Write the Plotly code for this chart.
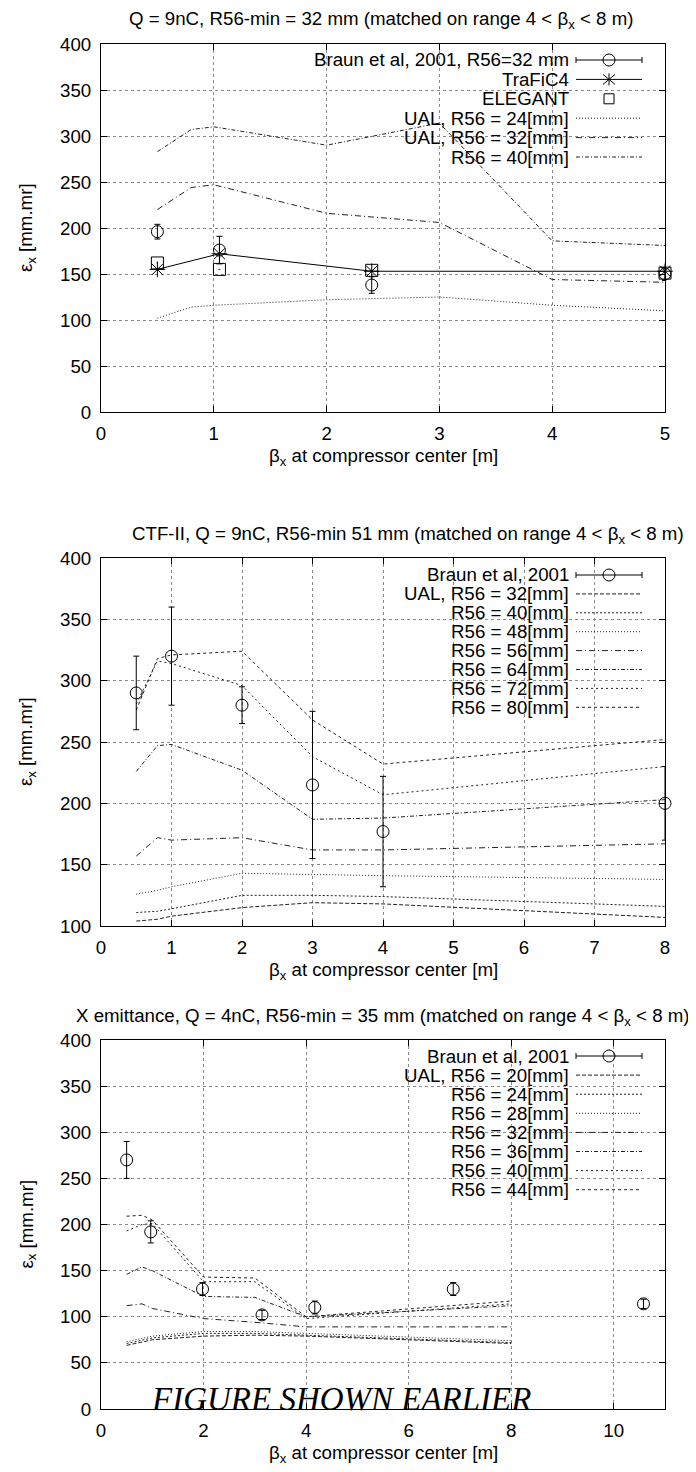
import plotly.graph_objects as go

# ---------------- data ----------------
# Panel 1: Q = 9nC, R56-min = 32 mm
top_braun_beta = [0.5, 1.05, 2.4, 5.0]
top_braun_eps = [196, 176, 138, 150]
top_braun_err = [8, 15, 9, 7]
top_trafic_beta = [0.5, 1.05, 2.4, 5.0]
top_trafic_eps = [155, 172, 153, 153]
top_elegant_beta = [0.5, 1.05, 2.4, 5.0]
top_elegant_eps = [162, 155, 154, 151]
top_ual_beta = [0.5, 0.8, 1, 2, 3, 4, 5]
top_ual_24 = [102, 114, 116, 122, 125, 116, 110]
top_ual_32 = [220, 244, 247, 216, 206, 144, 141]
top_ual_40 = [283, 307, 310, 290, 314, 186, 181]

# Panel 2: CTF-II, Q = 9nC
mid_braun_beta = [0.5, 1, 2, 3, 4, 8]
mid_braun_eps = [290, 320, 280, 215, 177, 200]
mid_braun_err = [30, 40, 15, 60, 45, 30]
mid_ual_beta = [0.5, 0.8, 1, 2, 3, 4, 8]
mid_r32 = [104, 105.5, 108, 115, 119, 118, 107]
mid_r40 = [111, 112, 114, 125, 125, 124, 116]
mid_r48 = [126, 129, 132, 143, 142, 141, 138]
mid_r56 = [157, 172, 170, 172, 162, 162, 167]
mid_r64 = [226, 247, 248, 227, 187, 188, 203]
mid_r72 = [281, 316, 314, 296, 238, 207, 230]
mid_r80 = [276, 318, 321, 324, 268, 232, 252]

# Panel 3: X emittance, Q = 4nC
bot_braun_beta = [0.5, 0.97, 1.98, 3.14, 4.17, 6.87, 10.58]
bot_braun_eps = [270, 192, 130, 102, 110, 130, 114]
bot_braun_err = [20, 12, 7, 5, 7, 7, 5]
bot_ual_beta = [0.5, 0.8, 1, 2, 3, 4, 8]
bot_r20 = [69, 73, 75, 79, 80, 79, 71]
bot_r24 = [71, 75, 77, 82, 82, 80, 72]
bot_r28 = [73, 77, 79, 84, 84, 82, 74]
bot_r32 = [112, 114, 109, 98, 94, 89, 89]
bot_r36 = [146, 154, 150, 122, 121, 100, 112]
bot_r40 = [193, 200, 201, 138, 138, 98, 114]
bot_r44 = [209, 210, 205, 143, 142, 100, 117]

titles = [
    "Q = 9nC, R56-min = 32 mm (matched on range 4 &lt; β<sub>x</sub> &lt; 8 m)",
    "CTF-II, Q = 9nC, R56-min 51 mm (matched on range 4 &lt; β<sub>x</sub> &lt; 8 m)",
    "X emittance, Q = 4nC, R56-min = 35 mm (matched on range 4 &lt; β<sub>x</sub> &lt; 8 m)",
]
xtitle = "β<sub>x</sub> at compressor center [m]"
ytitle = "ε<sub>x</sub> [mm.mr]"

# ---------------- layout helpers ----------------
W, H = 696, 1472
OFF = 8                     # page body margin of the browser
ML, MR, MT, MB = 93, 39, 36, 71
PW = W - ML - MR
PH = H - MT - MB
FONT = "Liberation Sans"
FS = 18.7


def xp(X):                  # screen x -> paper
    return (X - OFF - ML) / PW


def yp(Y):                  # screen y -> paper
    return (H - MB - (Y - OFF)) / PH


# frames in screen pixel coordinates (top, bottom)
frames = [(44, 412), (558, 926), (1040, 1409)]

D_DOT = "1px,2px"
D_DASH = "4px,2px"
D_SDOT = "2px,2px"
D_DD = "6px,3px,1px,3px"
D_DDS = "4px,2px,1px,2px"
D_72 = "2px,3px"
D_80 = "3px,3px"
LC = "#222"

fig = go.Figure()


def add_line(x, y, dash, ax):
    fig.add_trace(go.Scatter(x=x, y=y, mode="lines", line=dict(color=LC, width=1, dash=dash),
                             xaxis="x" + ax, yaxis="y" + ax, showlegend=False, hoverinfo="skip"))


def add_braun(x, y, err, ax):
    fig.add_trace(go.Scatter(x=x, y=y, mode="markers", cliponaxis=False,
                             marker=dict(symbol="circle-open", size=12, color="black", line=dict(width=1)),
                             error_y=dict(type="data", array=err, color="black", thickness=1, width=3),
                             xaxis="x" + ax, yaxis="y" + ax, showlegend=False))


# top panel
add_line(top_ual_beta, top_ual_24, D_DOT, "")
add_line(top_ual_beta, top_ual_32, D_DD, "")
add_line(top_ual_beta, top_ual_40, D_DDS, "")
fig.add_trace(go.Scatter(x=top_trafic_beta, y=top_trafic_eps, mode="lines+markers", cliponaxis=False,
                         line=dict(color="black", width=1),
                         marker=dict(symbol="asterisk-open", size=13, color="black", line=dict(width=1, color="black")),
                         xaxis="x", yaxis="y", showlegend=False))
fig.add_trace(go.Scatter(x=top_elegant_beta, y=top_elegant_eps, mode="markers", cliponaxis=False,
                         marker=dict(symbol="square-open-dot", size=12, color="black", line=dict(width=1)),
                         xaxis="x", yaxis="y", showlegend=False))
add_braun(top_braun_beta, top_braun_eps, top_braun_err, "")

# middle panel
for vals, d in [(mid_r32, D_DASH), (mid_r40, D_SDOT), (mid_r48, D_DOT), (mid_r56, D_DD),
                (mid_r64, D_DDS), (mid_r72, D_72), (mid_r80, D_80)]:
    add_line(mid_ual_beta, vals, d, "2")
add_braun(mid_braun_beta, mid_braun_eps, mid_braun_err, "2")

# bottom panel
for vals, d in [(bot_r20, D_DASH), (bot_r24, D_SDOT), (bot_r28, D_DOT), (bot_r32, D_DD),
                (bot_r36, D_DDS), (bot_r40, D_72), (bot_r44, D_80)]:
    add_line(bot_ual_beta, vals, d, "3")
add_braun(bot_braun_beta, bot_braun_eps, bot_braun_err, "3")

# ---------------- axes ----------------
axis_common = dict(showline=True, linecolor="black", linewidth=1, mirror="ticks",
                   ticks="inside", ticklen=6, tickcolor="black", tickwidth=1,
                   showgrid=True, gridcolor="#8a8a8a", griddash="dot", gridwidth=1,
                   zeroline=False, tickfont=dict(family=FONT, size=FS, color="black"))

xranges = [([0, 5], 1), ([0, 8], 1), ([0, 11], 2)]
yranges = [([0, 400], 50), ([100, 400], 50), ([0, 400], 50)]
names = ["", "2", "3"]
layout = {}
for i, n in enumerate(names):
    t, b = frames[i]
    layout["xaxis" + n] = dict(axis_common, range=xranges[i][0], dtick=xranges[i][1], tick0=0,
                               domain=[0, 1], anchor="y" + n, ticklabelstandoff=5)
    layout["yaxis" + n] = dict(axis_common, range=yranges[i][0], dtick=yranges[i][1], tick0=0,
                               domain=[yp(b), yp(t)], anchor="x" + n, ticklabelstandoff=5)

fig.update_layout(**layout)

# ---------------- annotations & legend ----------------
ann = []
shapes = []
title_pos = [(381, 20, "center"), (408, 535, "center"), (692, 1017, "right")]
for i in range(3):
    t, b = frames[i]
    tx, ty, anc = title_pos[i]
    ann.append(dict(text=titles[i], x=xp(tx), y=yp(ty), xref="paper", yref="paper",
                    xanchor=anc, yanchor="middle", showarrow=False,
                    font=dict(family=FONT, size=FS, color="black")))
    ann.append(dict(text=xtitle, x=xp(383), y=yp(b + 45), xref="paper", yref="paper",
                    xanchor="center", yanchor="middle", showarrow=False,
                    font=dict(family=FONT, size=FS, color="black")))
    ann.append(dict(text=ytitle, x=xp(27), y=yp((t + b) / 2), xref="paper", yref="paper",
                    xanchor="center", yanchor="middle", showarrow=False, textangle=-90,
                    font=dict(family=FONT, size=FS, color="black")))

# white legend boxes (cover the grid, below the traces)
boxes = [(247, 44, 660, 168), (375, 558, 660, 717), (375, 1040, 660, 1200)]
for (x0, y0, x1, y1) in boxes:
    shapes.append(dict(type="rect", xref="paper", yref="paper", x0=xp(x0), x1=xp(x1),
                       y0=yp(y1), y1=yp(y0), fillcolor="white", line=dict(width=0), layer="between"))

TX = 571
SX0, SX1, SXC = 576, 642, 609


def leg_text(label, py):
    ann.append(dict(text=label, x=xp(TX), y=yp(py), xref="paper", yref="paper",
                    xanchor="right", yanchor="middle", showarrow=False,
                    font=dict(family=FONT, size=FS, color="black")))


def seg(x0, y0, x1, y1, color="black", dash="solid"):
    shapes.append(dict(type="line", xref="paper", yref="paper", x0=xp(x0), x1=xp(x1),
                       y0=yp(y0), y1=yp(y1), line=dict(color=color, width=1, dash=dash)))


def leg_braun(py):
    seg(SX0, py, SX1, py)
    seg(SX0, py - 3, SX0, py + 3)
    seg(SX1, py - 3, SX1, py + 3)
    shapes.append(dict(type="circle", xref="paper", yref="paper", x0=xp(SXC - 6), x1=xp(SXC + 6),
                       y0=yp(py + 6), y1=yp(py - 6), line=dict(color="black", width=1)))


def leg_line(py, dash):
    seg(SX0, py, SX1, py, color=LC, dash=dash)


# top legend
rows = [60 + 19.4 * k for k in range(6)]
leg_text("Braun et al, 2001, R56=32 mm", rows[0]); leg_braun(rows[0])
leg_text("TraFiC4", rows[1]); seg(SX0, rows[1], SX1, rows[1])
seg(SXC, rows[1] - 6, SXC, rows[1] + 6)
seg(SXC - 6, rows[1] - 5, SXC + 6, rows[1] + 5)
seg(SXC - 6, rows[1] + 5, SXC + 6, rows[1] - 5)
leg_text("ELEGANT", rows[2])
shapes.append(dict(type="rect", xref="paper", yref="paper", x0=xp(SXC - 5), x1=xp(SXC + 5),
                   y0=yp(rows[2] + 5), y1=yp(rows[2] - 5), line=dict(color="black", width=1)))
leg_text("UAL, R56 = 24[mm]", rows[3]); leg_line(rows[3], D_DOT)
leg_text("UAL, R56 = 32[mm]", rows[4]); leg_line(rows[4], D_DD)
leg_text("R56 = 40[mm]", rows[5]); leg_line(rows[5], D_DDS)

# middle legend
rows = [575 + 18.9 * k for k in range(8)]
mid_labels = ["UAL, R56 = 32[mm]", "R56 = 40[mm]", "R56 = 48[mm]", "R56 = 56[mm]",
              "R56 = 64[mm]", "R56 = 72[mm]", "R56 = 80[mm]"]
mid_dashes = [D_DASH, D_SDOT, D_DOT, D_DD, D_DDS, D_72, D_80]
leg_text("Braun et al, 2001", rows[0]); leg_braun(rows[0])
for k, (lab, d) in enumerate(zip(mid_labels, mid_dashes)):
    leg_text(lab, rows[k + 1]); leg_line(rows[k + 1], d)

# bottom legend
rows = [1056 + 19.1 * k for k in range(8)]
bot_labels = ["UAL, R56 = 20[mm]", "R56 = 24[mm]", "R56 = 28[mm]", "R56 = 32[mm]",
              "R56 = 36[mm]", "R56 = 40[mm]", "R56 = 44[mm]"]
bot_dashes = [D_DASH, D_SDOT, D_DOT, D_DD, D_DDS, D_72, D_80]
leg_text("Braun et al, 2001", rows[0]); leg_braun(rows[0])
for k, (lab, d) in enumerate(zip(bot_labels, bot_dashes)):
    leg_text(lab, rows[k + 1]); leg_line(rows[k + 1], d)

# stamp
ann.append(dict(text="<i>FIGURE SHOWN EARLIER</i>", x=xp(341), y=yp(frames[2][1] - 10), xref="paper", yref="paper",
                xanchor="center", yanchor="middle", showarrow=False,
                font=dict(family="Liberation Serif", size=33, color="black")))

fig.update_layout(width=W, height=H, autosize=False,
                  margin=dict(l=ML, r=MR, t=MT, b=MB, pad=0),
                  paper_bgcolor="white", plot_bgcolor="white",
                  showlegend=False, annotations=ann, shapes=shapes,
                  font=dict(family=FONT, size=FS, color="black"))

fig.write_html("out.html")
